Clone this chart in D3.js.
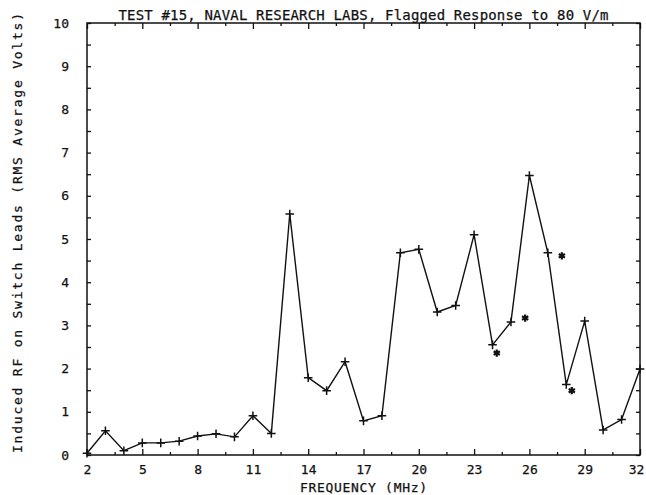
<!DOCTYPE html>
<html>
<head>
<meta charset="utf-8">
<script src="https://cdn.jsdelivr.net/npm/d3@7"></script>
<style>
  body { margin: 0; background: #fff; }
  svg { display: block; }
  text { font-family: "DejaVu Sans Mono", "Liberation Mono", monospace; fill: #111; }
</style>
</head>
<body>
<script>
// frequencies sampled (MHz) and measured response (RMS average volts)
const freqs = [2, 3, 4, 5, 6, 7, 8, 9, 10, 11, 12, 13, 14, 15, 16, 17,
               18, 19, 20, 21, 22, 23, 24, 25, 26, 27, 28, 29, 30, 31, 32];
const volts = [0.04, 0.56, 0.10, 0.28, 0.28, 0.32, 0.44, 0.49, 0.42, 0.91, 0.50,
               5.58, 1.79, 1.49, 2.16, 0.79, 0.91, 4.68, 4.76, 3.31, 3.46, 5.10,
               2.55, 3.08, 6.47, 4.68, 1.63, 3.10, 0.58, 0.82, 1.99];

// flagged readings (asterisks)
const flagFreqs = [24.23, 25.77, 27.76, 28.30];
const flagVolts = [2.36, 3.17, 4.61, 1.49];

// axis ticks
const xMajor = [2, 5, 8, 11, 14, 17, 20, 23, 26, 29, 32];
const xMinor = [3.5, 6.5, 9.5, 12.5, 15.5, 18.5, 21.5, 24.5, 27.5, 30.5];
const yTicks = [0, 0.5, 1, 1.5, 2, 2.5, 3, 3.5, 4, 4.5, 5, 5.5, 6, 6.5, 7, 7.5, 8, 8.5, 9, 9.5, 10];

const titleText = "TEST #15, NAVAL RESEARCH LABS, Flagged Response to 80 V/m";
const xLabel = "FREQUENCY (MHz)";
const yLabel = "Induced RF on Switch Leads (RMS Average Volts)";

const width = 646, height = 495;
const margin = {top: 23, right: 6, bottom: 40, left: 87};

const svg = d3.select("body").append("svg")
  .attr("width", width)
  .attr("height", height);

const x = d3.scaleLinear()
  .domain([2, 32])
  .range([margin.left, width - margin.right]);

const y = d3.scaleLinear()
  .domain([0, 10])
  .range([height - margin.bottom, margin.top]);

const ink = "#111";

// axes: ticks point inward on all four sides
function styleAxis(g) {
  g.select(".domain").remove();
  g.selectAll("line").attr("stroke", ink).attr("stroke-width", 1.3);
  g.selectAll("text").attr("font-size", 13).attr("fill", ink)
    .attr("stroke", ink).attr("stroke-width", 0.25);
}

const bottomAxis = svg.append("g")
  .attr("transform", `translate(0,${y(0)})`)
  .call(d3.axisBottom(x).tickValues(xMajor).tickSizeInner(-6).tickSizeOuter(0).tickPadding(10).tickFormat(d3.format("d")))
  .call(styleAxis);

// last label sits against the page edge
bottomAxis.selectAll(".tick text").filter(d => d === 32).attr("dx", -4);

svg.append("g")
  .attr("transform", `translate(0,${y(0)})`)
  .call(d3.axisBottom(x).tickValues(xMinor).tickSizeInner(-3).tickSizeOuter(0).tickFormat(""))
  .call(styleAxis);

svg.append("g")
  .attr("transform", `translate(0,${y(10)})`)
  .call(d3.axisTop(x).tickValues(xMajor).tickSizeInner(-6).tickSizeOuter(0).tickFormat(""))
  .call(styleAxis);

svg.append("g")
  .attr("transform", `translate(0,${y(10)})`)
  .call(d3.axisTop(x).tickValues(xMinor).tickSizeInner(-3).tickSizeOuter(0).tickFormat(""))
  .call(styleAxis);

svg.append("g")
  .attr("transform", `translate(${x(2)},0)`)
  .call(d3.axisLeft(y).tickValues(yTicks).tickSizeInner(-4).tickSizeOuter(0).tickPadding(18)
    .tickFormat(d => Number.isInteger(d) ? d : ""))
  .call(styleAxis);

svg.append("g")
  .attr("transform", `translate(${x(32)},0)`)
  .call(d3.axisRight(y).tickValues(yTicks).tickSizeInner(-4).tickSizeOuter(0).tickFormat(""))
  .call(styleAxis);

// frame
svg.append("rect")
  .attr("x", x(2))
  .attr("y", y(10))
  .attr("width", x(32) - x(2))
  .attr("height", y(0) - y(10))
  .attr("fill", "none")
  .attr("stroke", ink)
  .attr("stroke-width", 1.5);

// response line
const pts = freqs.map((f, i) => [f, volts[i]]);

svg.append("path")
  .datum(pts)
  .attr("fill", "none")
  .attr("stroke", ink)
  .attr("stroke-width", 1.4)
  .attr("stroke-linejoin", "miter")
  .attr("d", d3.line().x(d => x(d[0])).y(d => y(d[1])));

// "+" markers at each reading
svg.append("g").selectAll("path")
  .data(pts)
  .join("path")
  .attr("transform", d => `translate(${x(d[0])},${y(d[1])})`)
  .attr("d", d3.symbol(d3.symbolPlus, 26))
  .attr("fill", "none")
  .attr("stroke", ink)
  .attr("stroke-width", 1.5);

// flagged readings as asterisks
const flags = flagFreqs.map((f, i) => [f, flagVolts[i]]);

svg.append("g").selectAll("path")
  .data(flags)
  .join("path")
  .attr("transform", d => `translate(${x(d[0])},${y(d[1])})`)
  .attr("d", d3.symbol(d3.symbolAsterisk, 36))
  .attr("fill", "none")
  .attr("stroke", ink)
  .attr("stroke-width", 2.2);

// title
svg.append("text")
  .attr("x", (x(2) + x(32)) / 2)
  .attr("y", 20)
  .attr("text-anchor", "middle")
  .attr("font-size", 14)
  .attr("stroke", ink)
  .attr("stroke-width", 0.25)
  .attr("textLength", 490)
  .attr("lengthAdjust", "spacing")
  .text(titleText);

// x axis label
svg.append("text")
  .attr("x", (x(2) + x(32)) / 2)
  .attr("y", 492)
  .attr("text-anchor", "middle")
  .attr("font-size", 13)
  .attr("stroke", ink)
  .attr("stroke-width", 0.25)
  .attr("textLength", 127)
  .attr("lengthAdjust", "spacing")
  .text(xLabel);

// y axis label
svg.append("text")
  .attr("transform", `translate(22,${233}) rotate(-90)`)
  .attr("text-anchor", "middle")
  .attr("font-size", 13)
  .attr("stroke", ink)
  .attr("stroke-width", 0.25)
  .attr("textLength", 440)
  .attr("lengthAdjust", "spacing")
  .text(yLabel);
</script>
</body>
</html>
